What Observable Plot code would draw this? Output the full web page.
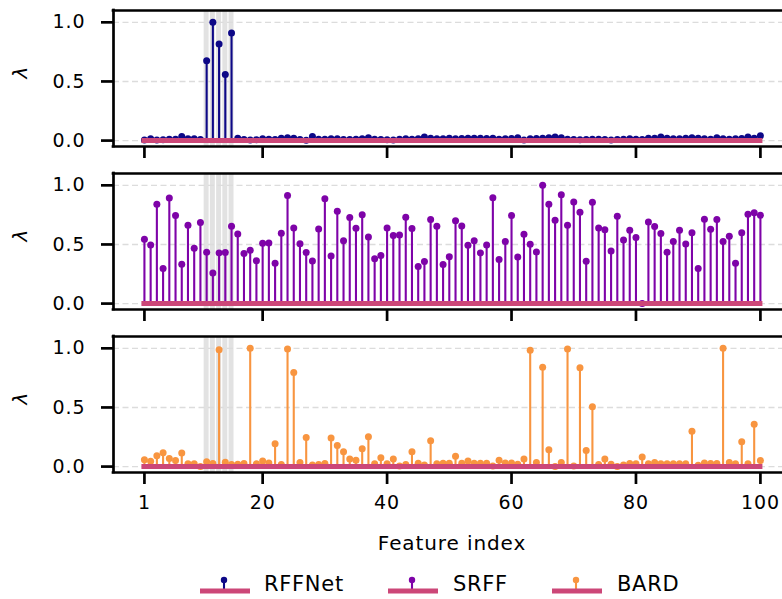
<!DOCTYPE html>
<html>
<head>
<meta charset="utf-8">
<script src="https://cdn.jsdelivr.net/npm/d3@7"></script>
<script src="https://cdn.jsdelivr.net/npm/@observablehq/plot@0.6"></script>
<style>
  html, body { margin: 0; padding: 0; background: #fff; }
  #root { position: relative; width: 782px; height: 599px; overflow: hidden; font-family: "DejaVu Sans", sans-serif; }
  .panel { position: absolute; left: 0; }
  .panel text { letter-spacing: 0.9px; }
  .panel g[aria-label="y-axis tick label"], .panel g[aria-label="y-axis tick label"] text { font-size: 19px !important; }
  .panel g[aria-label="x-axis tick label"], .panel g[aria-label="x-axis tick label"] text { font-size: 19px !important; }
  .leg-sym { position: absolute; }
  .leg-txt { position: absolute; font-size: 21px; line-height: 24px; color: #000; letter-spacing: 0.7px; }
</style>
</head>
<body>
<div id="root"></div>
<script>
// ---------------- data ----------------
const features = d3.range(1, 101);
const highlighted = [11, 12, 13, 14, 15];
const xTicks = [1, 20, 40, 60, 80, 100];
const yTicks = [0, 0.5, 1.0];
const seriesNames = ["RFFNet", "SRFF", "BARD"];

const rffnet = [
  0.005, 0.015, 0.005, 0.008, 0.012, 0.012, 0.035, 0.015, 0.015, 0.010,
  0.676, 1.000, 0.817, 0.558, 0.910, 0.020, 0.010, 0.005, 0.008, 0.015,
  0.012, 0.010, 0.020, 0.025, 0.020, 0.010, 0.002, 0.035, 0.012, 0.012,
  0.015, 0.015, 0.010, 0.010, 0.012, 0.015, 0.025, 0.012, 0.010, 0.008,
  0.005, 0.012, 0.015, 0.012, 0.015, 0.030, 0.020, 0.015, 0.015, 0.020,
  0.015, 0.018, 0.020, 0.020, 0.020, 0.018, 0.020, 0.012, 0.015, 0.018,
  0.025, 0.005, 0.015, 0.018, 0.020, 0.025, 0.030, 0.025, 0.012, 0.010,
  0.008, 0.010, 0.012, 0.012, 0.010, 0.005, 0.010, 0.012, 0.015, 0.012,
  0.010, 0.020, 0.020, 0.030, 0.020, 0.015, 0.015, 0.020, 0.025, 0.020,
  0.015, 0.012, 0.025, 0.015, 0.012, 0.015, 0.018, 0.030, 0.020, 0.040
];

const srff = [
  0.544, 0.496, 0.839, 0.296, 0.893, 0.744, 0.332, 0.662, 0.468, 0.685,
  0.434, 0.259, 0.428, 0.431, 0.654, 0.589, 0.423, 0.451, 0.363, 0.510,
  0.513, 0.341, 0.594, 0.915, 0.639, 0.507, 0.431, 0.361, 0.631, 0.887,
  0.403, 0.780, 0.532, 0.727, 0.637, 0.752, 0.563, 0.380, 0.406, 0.639,
  0.575, 0.580, 0.730, 0.634, 0.313, 0.355, 0.710, 0.654, 0.330, 0.396,
  0.701, 0.656, 0.493, 0.532, 0.428, 0.496, 0.896, 0.372, 0.524, 0.744,
  0.394, 0.586, 0.501, 0.437, 1.000, 0.839, 0.704, 0.921, 0.662, 0.859,
  0.772, 0.358, 0.856, 0.639, 0.625, 0.445, 0.738, 0.538, 0.620, 0.558,
  0.000, 0.690, 0.651, 0.592, 0.434, 0.524, 0.620, 0.504, 0.600, 0.296,
  0.713, 0.628, 0.710, 0.524, 0.569, 0.341, 0.600, 0.755, 0.769, 0.746
];

const bard = [
  0.057, 0.045, 0.091, 0.116, 0.068, 0.051, 0.114, 0.023, 0.023, 0.000,
  0.040, 0.026, 0.989, 0.037, 0.017, 0.020, 0.026, 1.000, 0.023, 0.048,
  0.031, 0.193, 0.017, 0.994, 0.795, 0.034, 0.247, 0.014, 0.017, 0.026,
  0.241, 0.179, 0.125, 0.065, 0.054, 0.151, 0.253, 0.023, 0.074, 0.023,
  0.065, 0.006, 0.017, 0.125, 0.028, 0.014, 0.219, 0.023, 0.028, 0.028,
  0.088, 0.028, 0.048, 0.028, 0.028, 0.028, 0.006, 0.054, 0.031, 0.031,
  0.020, 0.065, 0.983, 0.034, 0.841, 0.142, 0.000, 0.034, 0.994, 0.006,
  0.835, 0.136, 0.506, 0.017, 0.065, 0.020, 0.000, 0.014, 0.026, 0.023,
  0.082, 0.023, 0.034, 0.023, 0.023, 0.023, 0.023, 0.023, 0.298, 0.011,
  0.031, 0.026, 0.026, 1.000, 0.034, 0.023, 0.210, 0.023, 0.358, 0.051
];

// ---------------- styling ----------------
const stemColors = ["#0d0887", "#7e03a8", "#f89540"];
const baseColor = "#cc4778";
const xDomain = [-3.97, 103.55];
const yDomain = [-0.05, 1.1];
const frameH = 136;
const panelTops = [0, 163, 326];
const spineW = 2.7;

const root = document.getElementById("root");
const allSeries = [rffnet, srff, bard];

allSeries.forEach((vals, k) => {
  const data = features.map((f, i) => ({feature: f, value: vals[i]}));
  const isLast = k === allSeries.length - 1;
  const mt = 10, mb = isLast ? 92 : 20;
  const marks = [
    // highlighted feature bands
    Plot.rect(highlighted, {x1: d => d - 0.4, x2: d => d + 0.4, y1: yDomain[0], y2: yDomain[1], fill: "#d6d6d6", fillOpacity: 0.7}),
    // dashed grid
    Plot.ruleY(yTicks, {stroke: "#dcdcdc", strokeWidth: 1.4, strokeDasharray: "6,3.5"}),
    // stems
    Plot.ruleX(data, {x: "feature", y1: 0, y2: "value", stroke: stemColors[k], strokeWidth: 2.1}),
    Plot.dot(data, {x: "feature", y: "value", r: 3.5, fill: stemColors[k], stroke: "none"}),
    // baseline
    Plot.ruleY([0], {x1: d3.min(features), x2: d3.max(features), stroke: baseColor, strokeWidth: 5, strokeLinecap: "square"}),
    // spines (left, bottom, top)
    Plot.ruleX([xDomain[0]], {stroke: "#000", strokeWidth: spineW, strokeLinecap: "square"}),
    Plot.ruleY(yDomain, {stroke: "#000", strokeWidth: spineW, strokeLinecap: "square"}),
    // axes
    Plot.axisY(yTicks, {tickSize: 12, tickPadding: 16, strokeWidth: spineW, tickFormat: d3.format(".1f"), fontSize: 19, fill: "#000", label: null}),
    Plot.axisX(xTicks, {tickSize: 12, tickPadding: 11, strokeWidth: spineW, tickFormat: isLast ? (d => String(d)) : (() => ""), fontSize: 19, fill: "#000", label: null}),
    // y label
    Plot.text(["λ"], {frameAnchor: "left", dx: -93, rotate: -90, fontStyle: "italic", fontSize: 20, fill: "#000"})
  ];
  if (isLast) {
    marks.push(Plot.text(["Feature index"], {frameAnchor: "bottom", dx: 4, dy: 71, lineAnchor: "middle", fontSize: 20, fill: "#000"}));
  }
  const chart = Plot.plot({
    width: 782,
    height: mt + frameH + mb,
    marginTop: mt,
    marginBottom: mb,
    marginLeft: 113,
    marginRight: 0,
    style: {fontFamily: "DejaVu Sans", fontSize: "18px", color: "#000", background: "transparent", overflow: "visible"},
    x: {domain: xDomain, type: "linear"},
    y: {domain: yDomain, type: "linear"},
    marks
  });
  chart.classList.add("panel");
  chart.style.top = panelTops[k] + "px";
  root.appendChild(chart);
});

// ---------------- legend ----------------
const legendSymX = [199, 387, 551];
const legendTxtX = [264, 453, 617];
const legendTop = 572;
seriesNames.forEach((name, k) => {
  const ns = "http://www.w3.org/2000/svg";
  const svg = document.createElementNS(ns, "svg");
  svg.setAttribute("width", 52);
  svg.setAttribute("height", 26);
  svg.setAttribute("class", "leg-sym");
  svg.style.left = legendSymX[k] + "px";
  svg.style.top = legendTop + "px";
  const base = document.createElementNS(ns, "line");
  base.setAttribute("x1", 1); base.setAttribute("x2", 51);
  base.setAttribute("y1", 19); base.setAttribute("y2", 19);
  base.setAttribute("stroke", baseColor); base.setAttribute("stroke-width", 5);
  const stem = document.createElementNS(ns, "line");
  stem.setAttribute("x1", 25); stem.setAttribute("x2", 25);
  stem.setAttribute("y1", 19); stem.setAttribute("y2", 8);
  stem.setAttribute("stroke", stemColors[k]); stem.setAttribute("stroke-width", 2.1);
  const dot = document.createElementNS(ns, "circle");
  dot.setAttribute("cx", 25); dot.setAttribute("cy", 8); dot.setAttribute("r", 3.2);
  dot.setAttribute("fill", stemColors[k]);
  svg.appendChild(stem); svg.appendChild(base); svg.appendChild(dot);
  root.appendChild(svg);
  const t = document.createElement("div");
  t.className = "leg-txt";
  t.style.left = legendTxtX[k] + "px";
  t.style.top = legendTop + "px";
  t.textContent = name;
  root.appendChild(t);
});
</script>
</body>
</html>
